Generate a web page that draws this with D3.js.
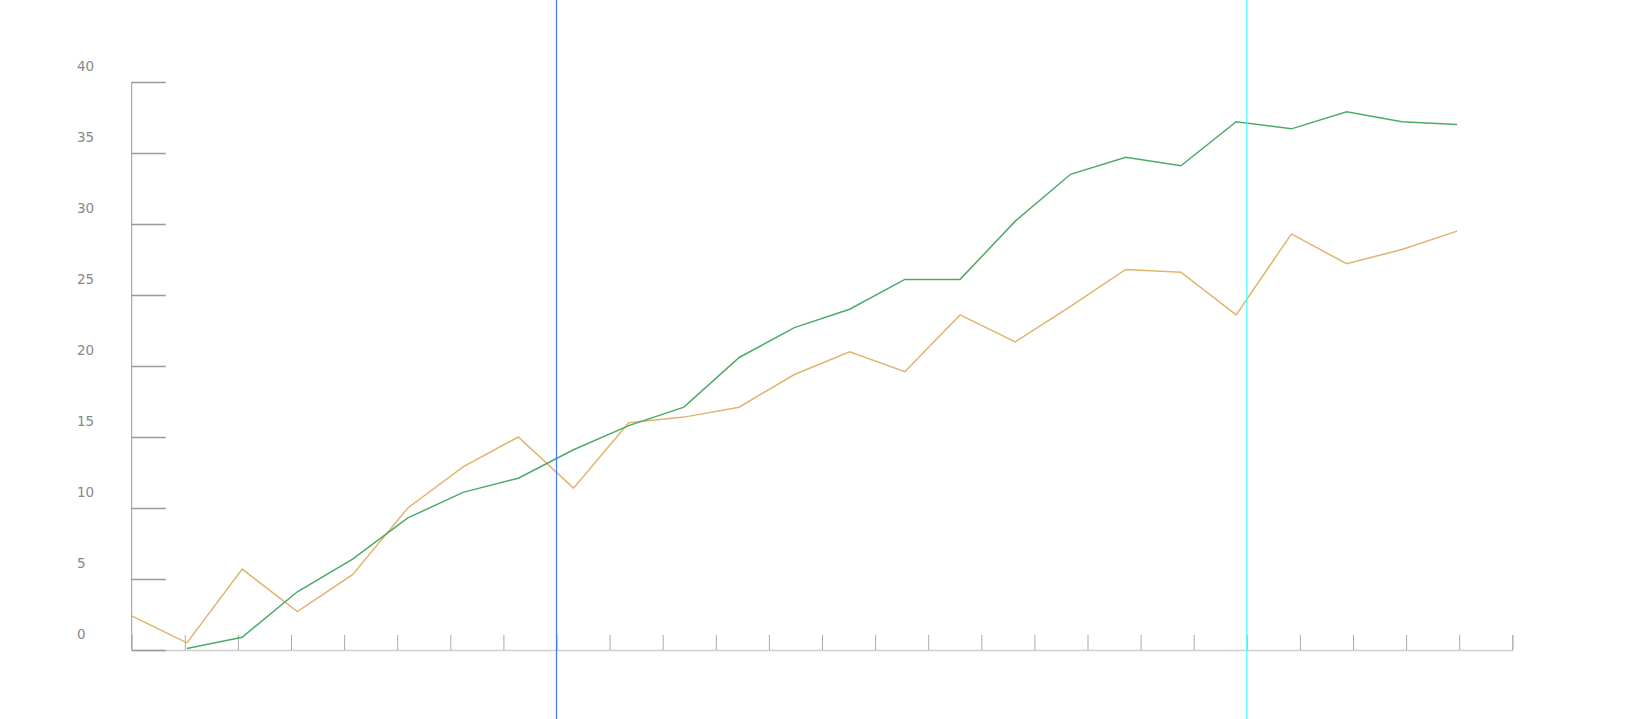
<!DOCTYPE html>
<html>
<head>
<meta charset="utf-8">
<script src="https://cdn.jsdelivr.net/npm/d3@7"></script>
<style>
  body { margin: 0; background: #fff; }
  svg { display: block; }
</style>
</head>
<body>
<div id="chart"></div>
<script>
// series values, one per step (green starts one step later)
const orangeValues = [2.4, 0.5, 5.7, 2.7, 5.3, 10.0, 12.9, 15.0, 11.4, 16.0, 16.4, 17.1, 19.4,
  21.0, 19.6, 23.6, 21.7, 24.2, 26.8, 26.6, 23.6, 29.3, 27.2, 28.2, 29.5];
const greenValues = [null, 0.1, 0.9, 4.1, 6.4, 9.3, 11.1, 12.1, 14.1, 15.8, 17.1, 20.6, 22.7,
  24.0, 26.1, 26.1, 30.2, 33.5, 34.7, 34.1, 37.2, 36.7, 37.9, 37.2, 37.0];
const yTickValues = [0, 5, 10, 15, 20, 25, 30, 35, 40];
const xTickCount = 26;       // tick intervals on the bottom axis
const dataSlots = 25;        // data slots spanning the same width
const markerTicks = [8, 21]; // vertical marker lines, in tick units

const width = 1649;
const height = 719;
const marginLeft = 131.7;
const marginRight = width - 1512.3;
const yBottom = 650;
const yTop = 82;

const xData = d3.scaleLinear().domain([0, dataSlots]).range([marginLeft, width - marginRight]);
const xTick = d3.scaleLinear().domain([0, xTickCount]).range([marginLeft, width - marginRight]);
const y = d3.scaleLinear().domain([0, 40]).range([yBottom, yTop]);

const svg = d3.create("svg")
  .attr("width", width)
  .attr("height", height)
  .attr("viewBox", [0, 0, width, height]);

// bottom axis: light line with short ticks pointing up
svg.append("g")
    .attr("transform", `translate(0,${yBottom})`)
    .call(d3.axisTop(xTick).tickValues(d3.range(1, xTickCount + 1)).tickSize(15).tickFormat(""))
    .call(g => g.select(".domain").attr("stroke", "#cfcfcf").attr("stroke-width", 1.5))
    .call(g => g.selectAll(".tick line").attr("stroke", "#aaa"));

// left axis: ticks run into the plot, labels sit above each tick
svg.append("g")
    .attr("transform", `translate(${marginLeft},0)`)
    .call(d3.axisRight(y).tickValues(yTickValues).tickSize(34).tickFormat(""))
    .call(g => g.select(".domain").attr("stroke", "#999").attr("d", `M0,${yTop}V${yBottom}`))
    .call(g => g.selectAll(".tick line").attr("stroke", "#999").attr("stroke-width", 1.5));

svg.append("g")
  .selectAll("text")
  .data(yTickValues)
  .join("text")
    .attr("x", 77)
    .attr("y", d => y(d) - 11)
    .attr("fill", "#888")
    .attr("font-family", "Verdana, 'DejaVu Sans', sans-serif")
    .attr("font-size", 13.5)
    .text(d => d);

const line = d3.line()
  .defined(d => d != null)
  .x((d, i) => xData(i))
  .y(d => y(d));

svg.append("path")
  .datum(orangeValues)
  .attr("fill", "none")
  .attr("stroke", "#e0b46f")
  .attr("stroke-width", 1.5)
  .attr("d", line);

svg.append("path")
  .datum(greenValues)
  .attr("fill", "none")
  .attr("stroke", "#4caa68")
  .attr("stroke-width", 1.5)
  .attr("d", line);

// vertical marker lines across the whole height
svg.append("g")
  .selectAll("line")
  .data(markerTicks)
  .join("line")
    .attr("x1", d => xTick(d))
    .attr("x2", d => xTick(d))
    .attr("y1", 0)
    .attr("y2", height)
    .attr("stroke", (d, i) => i === 0 ? "#4477ff" : "#44ffff")
    .attr("stroke-width", 1.2);

document.getElementById("chart").appendChild(svg.node());
</script>
</body>
</html>
